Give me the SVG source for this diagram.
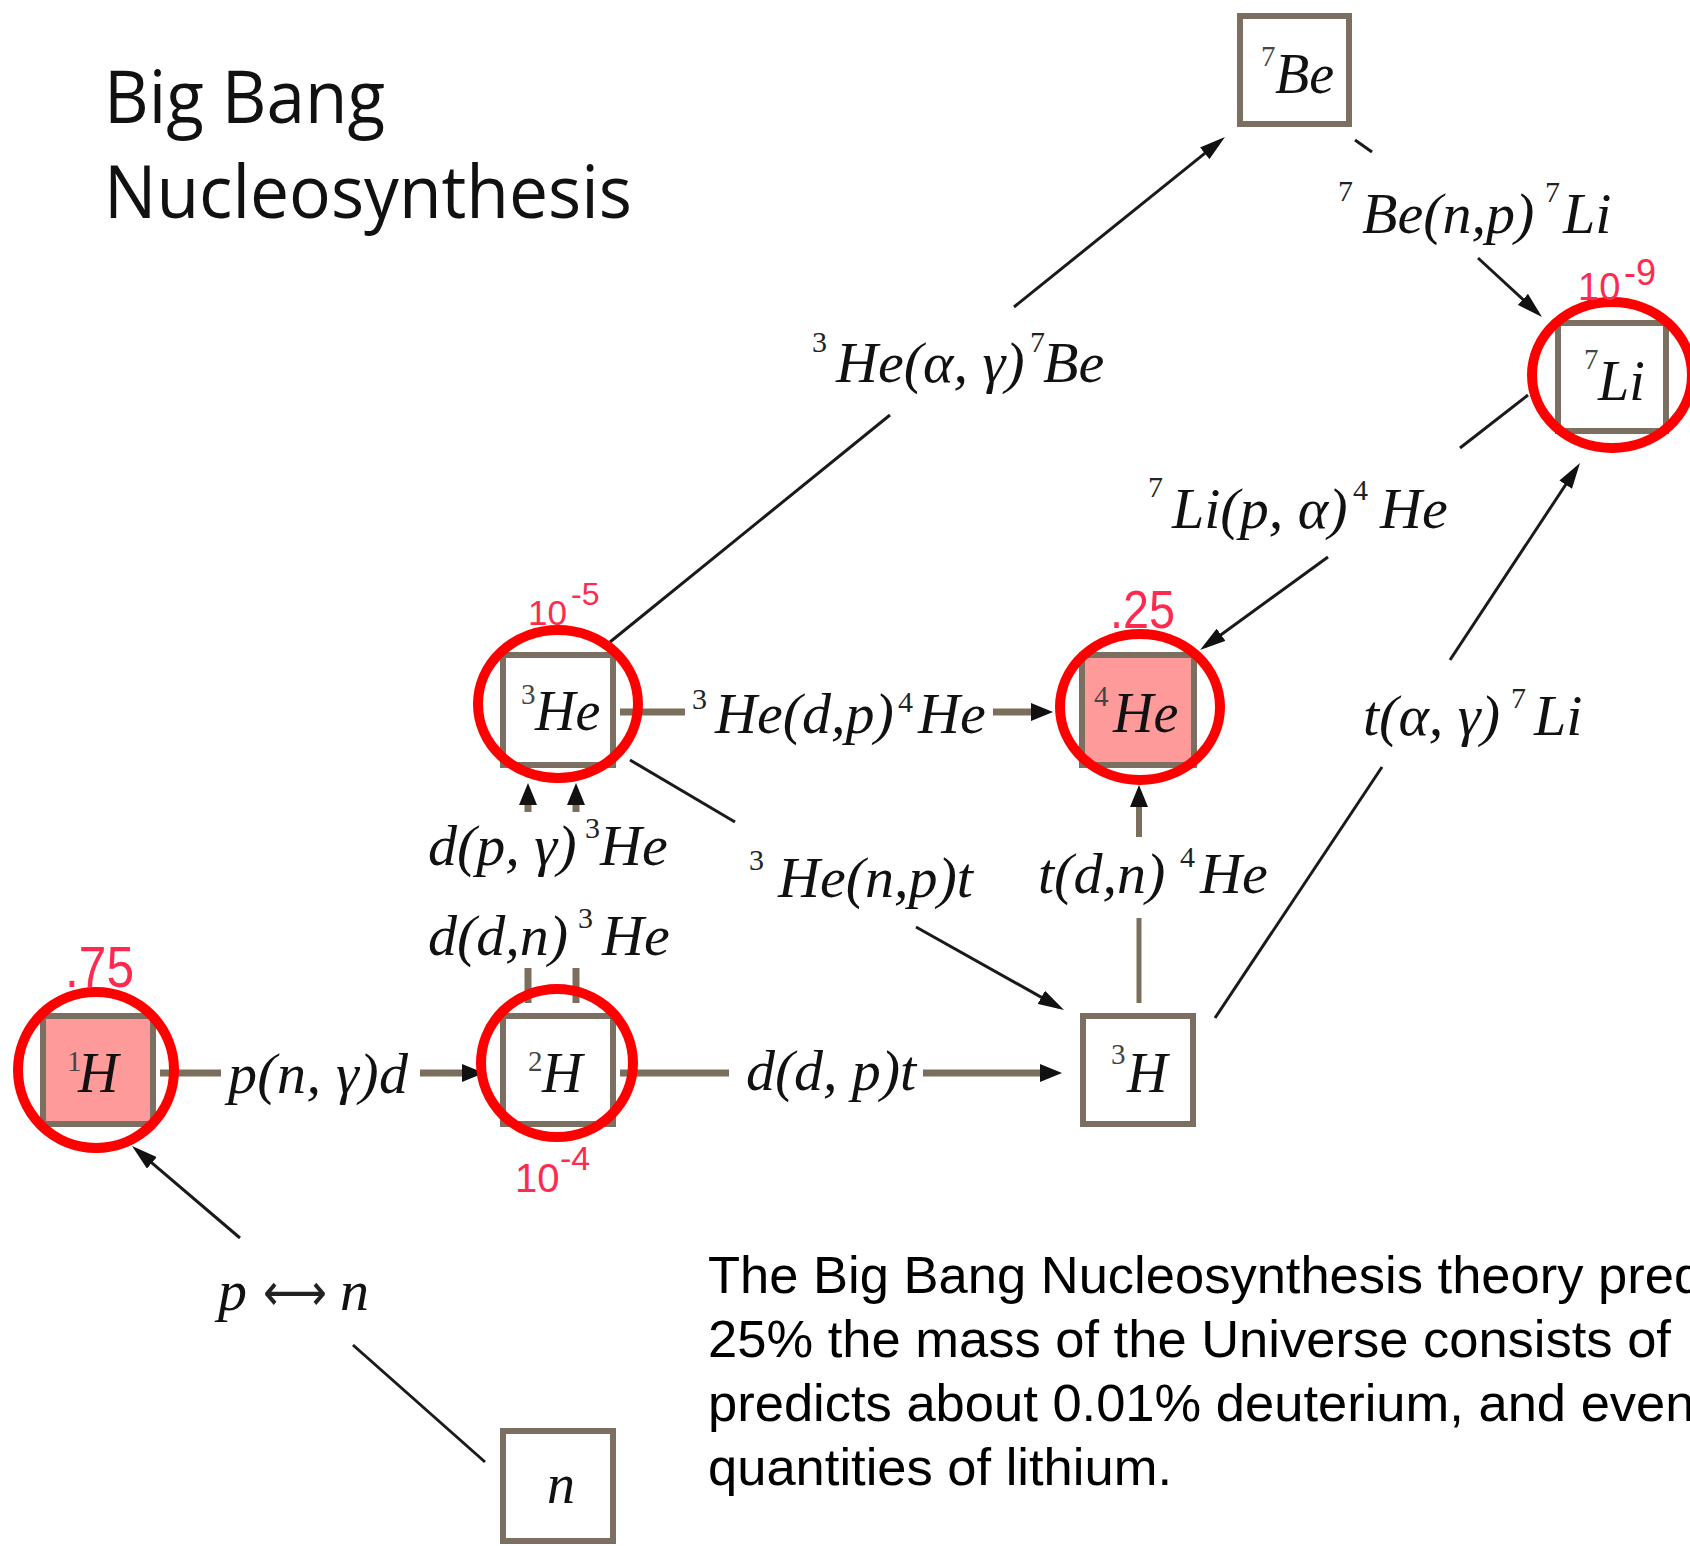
<svg xmlns="http://www.w3.org/2000/svg" width="1690" height="1546" viewBox="0 0 1690 1546">
<style>
.box{fill:#fff;stroke:#7a6f60;stroke-width:6}
.pink{fill:#ff9a9a}
.ring{fill:none;stroke:#ff0000;stroke-width:10}
.thick{stroke:#7a6e5c;stroke-width:7;fill:none}
.thin{stroke:#1c1a18;stroke-width:3;fill:none}
.r{font-family:"Liberation Serif","Times New Roman",serif;font-style:italic;font-size:58px;fill:#111}
.s{font-family:"Liberation Serif","Times New Roman",serif;font-style:normal;font-size:30px;fill:#222}
.nl{font-family:"Liberation Serif","Times New Roman",serif;font-style:italic;font-size:56px;fill:#111}
.ns{font-family:"Liberation Serif","Times New Roman",serif;font-style:normal;font-size:29px;fill:#444}
.red{font-family:"Liberation Sans",Arial,sans-serif;fill:#ff2a4d}
.title{font-family:"Open Sans","Noto Sans",sans-serif;font-size:74px;fill:#111}
.para{font-family:"Liberation Sans",Arial,sans-serif;font-size:52.5px;fill:#000}
</style>
<defs>
<marker id="ahK" markerUnits="userSpaceOnUse" markerWidth="22" markerHeight="18" refX="10" refY="9" orient="auto"><path d="M0,0 L22,9 L0,18 z" fill="#111"/></marker>
<marker id="ahT" markerUnits="userSpaceOnUse" markerWidth="26" markerHeight="15" refX="20" refY="7.5" orient="auto"><path d="M0,0 L26,7.5 L0,15 z" fill="#111"/></marker>
</defs>
<rect width="1690" height="1546" fill="#fff"/>

<g id="title">
<text class="title" x="104" y="123" textLength="281" lengthAdjust="spacingAndGlyphs">Big Bang</text>
<text class="title" x="104" y="218" textLength="528" lengthAdjust="spacingAndGlyphs">Nucleosynthesis</text>
</g>

<g id="node-1H"><rect class="box pink" x="43" y="1016" width="110" height="108"/><text class="nl"><tspan class="ns" x="67" y="1071">1</tspan><tspan x="78" y="1092">H</tspan></text></g>
<g id="node-2H"><rect class="box" x="503" y="1016" width="110" height="108"/><text class="nl"><tspan class="ns" x="528" y="1071">2</tspan><tspan x="542" y="1092">H</tspan></text></g>
<g id="node-3H"><rect class="box" x="1083" y="1016" width="110" height="108"/><text class="nl"><tspan class="ns" x="1111" y="1064">3</tspan><tspan x="1127" y="1092">H</tspan></text></g>
<g id="node-3He"><rect class="box" x="503" y="655" width="110" height="110"/><text class="nl"><tspan class="ns" x="521" y="704">3</tspan><tspan x="535" y="730">He</tspan></text></g>
<g id="node-4He"><rect class="box pink" x="1082" y="655" width="112" height="110"/><text class="nl"><tspan class="ns" x="1094" y="706">4</tspan><tspan x="1113" y="732">He</tspan></text></g>
<g id="node-7Be"><rect class="box" x="1240" y="16" width="109" height="108"/><text class="nl"><tspan class="ns" x="1261" y="66">7</tspan><tspan x="1275" y="93">Be</tspan></text></g>
<g id="node-7Li"><rect class="box" x="1558" y="323" width="108" height="108"/><text class="nl"><tspan class="ns" x="1584" y="369">7</tspan><tspan x="1598" y="400">Li</tspan></text></g>
<g id="node-n"><rect class="box" x="503" y="1431" width="110" height="110"/><text class="nl" x="547" y="1503" font-size="50">n</text></g>

<g id="connectors">
<!-- p(n,gamma)d -->
<line class="thick" x1="160" y1="1073" x2="221" y2="1073"/>
<line class="thick" x1="420" y1="1073" x2="472" y2="1073" marker-end="url(#ahK)"/>
<!-- d(d,p)t -->
<line class="thick" x1="620" y1="1073" x2="729" y2="1073"/>
<line class="thick" x1="923" y1="1073" x2="1050" y2="1073" marker-end="url(#ahK)"/>
<!-- 3He(d,p)4He -->
<line class="thick" x1="620" y1="712" x2="685" y2="712"/>
<line class="thick" x1="993" y1="712" x2="1041" y2="712" marker-end="url(#ahK)"/>
<!-- t(d,n)4He -->
<line class="thick" x1="1139" y1="1003" x2="1139" y2="918" style="stroke-width:5"/>
<line class="thick" x1="1139" y1="837" x2="1139" y2="797" style="stroke-width:6" marker-end="url(#ahK)"/>
<!-- d(p,gamma)3He and d(d,n)3He -->
<line class="thick" x1="528" y1="1003" x2="528" y2="968"/>
<line class="thick" x1="576" y1="1003" x2="576" y2="968"/>
<line class="thick" x1="528" y1="812" x2="528" y2="795" marker-end="url(#ahK)"/>
<line class="thick" x1="576" y1="812" x2="576" y2="795" marker-end="url(#ahK)"/>
<!-- 3He(alpha,gamma)7Be -->
<line class="thin" x1="610" y1="642" x2="890" y2="415"/>
<line class="thin" x1="1014" y1="307" x2="1220.3" y2="140.8" marker-end="url(#ahT)"/>
<!-- 7Be(n,p)7Li -->
<line class="thin" x1="1355" y1="140" x2="1372" y2="152"/>
<line class="thin" x1="1478" y1="258" x2="1537.6" y2="312.9" marker-end="url(#ahT)"/>
<!-- 7Li(p,alpha)4He -->
<line class="thin" x1="1528" y1="395" x2="1460" y2="448"/>
<line class="thin" x1="1328" y1="557" x2="1204.9" y2="646.5" marker-end="url(#ahT)"/>
<!-- t(alpha,gamma)7Li -->
<line class="thin" x1="1215" y1="1018" x2="1382" y2="767"/>
<line class="thin" x1="1450" y1="660" x2="1576.7" y2="468" marker-end="url(#ahT)"/>
<!-- 3He(n,p)t -->
<line class="thin" x1="630" y1="760" x2="735" y2="822"/>
<line class="thin" x1="916" y1="927" x2="1058.8" y2="1007.1" marker-end="url(#ahT)"/>
<!-- p<->n -->
<line class="thin" x1="485" y1="1462" x2="353" y2="1345"/>
<line class="thin" x1="240" y1="1238" x2="136.6" y2="1149.9" marker-end="url(#ahT)"/>
</g>

<g id="labels">
<text class="r" x="228" y="1093" textLength="180">p(n, γ)d</text>
<text class="r" x="746" y="1090" textLength="170">d(d, p)t</text>
<text class="r"><tspan class="s" x="692" y="709">3</tspan><tspan x="715" y="733">He(d,p)</tspan><tspan class="s" x="898" y="712">4</tspan><tspan x="918" y="733">He</tspan></text>
<text class="r"><tspan x="428" y="865">d(p, γ)</tspan><tspan class="s" x="585" y="838">3</tspan><tspan x="600" y="865">He</tspan></text>
<text class="r"><tspan x="428" y="955">d(d,n)</tspan><tspan class="s" x="578" y="928">3</tspan><tspan x="602" y="955">He</tspan></text>
<text class="r"><tspan class="s" x="749" y="870">3</tspan><tspan x="778" y="897">He(n,p)t</tspan></text>
<text class="r"><tspan x="1038" y="893">t(d,n)</tspan><tspan class="s" x="1180" y="867">4</tspan><tspan x="1200" y="893">He</tspan></text>
<text class="r"><tspan class="s" x="812" y="352">3</tspan><tspan x="836" y="382">He(α, γ)</tspan><tspan class="s" x="1030" y="352">7</tspan><tspan x="1043" y="382">Be</tspan></text>
<text class="r"><tspan class="s" x="1338" y="201">7</tspan><tspan x="1362" y="233">Be(n,p)</tspan><tspan class="s" x="1545" y="202">7</tspan><tspan x="1563" y="233">Li</tspan></text>
<text class="r"><tspan class="s" x="1148" y="497">7</tspan><tspan x="1172" y="528">Li(p, α)</tspan><tspan class="s" x="1353" y="500">4</tspan><tspan x="1380" y="528">He</tspan></text>
<text class="r"><tspan x="1363" y="735">t(α, γ)</tspan><tspan class="s" x="1511" y="708">7</tspan><tspan x="1534" y="735">Li</tspan></text>
<text class="r" font-size="60"><tspan x="218" y="1310">p</tspan><tspan x="340" y="1310">n</tspan></text>
<text x="263" y="1310" font-family="DejaVu Sans, sans-serif" font-size="52" fill="#222" textLength="64" lengthAdjust="spacingAndGlyphs">⟷</text>
</g>

<g id="rings">
<ellipse class="ring" cx="96" cy="1070" rx="78" ry="78"/>
<ellipse class="ring" cx="557" cy="1063" rx="76" ry="74"/>
<ellipse class="ring" cx="558" cy="704" rx="80" ry="74"/>
<ellipse class="ring" cx="1140" cy="707" rx="80" ry="73"/>
<ellipse class="ring" cx="1612" cy="375" rx="80" ry="73"/>
</g>

<g id="abundances">
<text class="red" x="65" y="987" font-size="58" textLength="69" lengthAdjust="spacingAndGlyphs">.75</text>
<text class="red" x="1110" y="628" font-size="53" textLength="65" lengthAdjust="spacingAndGlyphs">.25</text>
<text class="red" font-size="35"><tspan x="528" y="625">10</tspan><tspan x="571" y="605" font-size="32">-5</tspan></text>
<text class="red" font-size="40"><tspan x="515" y="1192">10</tspan><tspan x="560" y="1170" font-size="34">-4</tspan></text>
<text class="red" font-size="38"><tspan x="1578" y="300">10</tspan><tspan x="1624" y="285" font-size="36">-9</tspan></text>
</g>

<g id="caption">
<text class="para" x="708" y="1293">The Big Bang Nucleosynthesis theory pred</text>
<text class="para" x="708" y="1357">25% the mass of the Universe consists of</text>
<text class="para" x="708" y="1421">predicts about 0.01% deuterium, and even</text>
<text class="para" x="708" y="1485">quantities of lithium.</text>
</g>
</svg>
